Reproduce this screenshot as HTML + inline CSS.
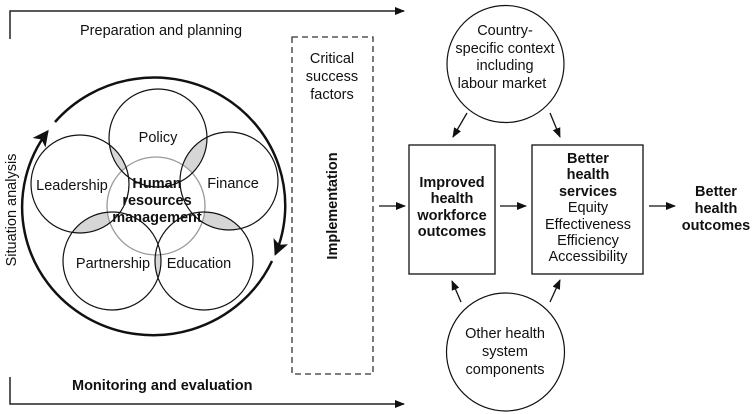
<!DOCTYPE html>
<html><head><meta charset="utf-8"><style>
html,body{margin:0;padding:0;background:#fff}
svg{display:block}
text{font-family:"Liberation Sans",Arial,sans-serif;font-size:14.5px;fill:#111}
.b{font-weight:bold}
</style></head><body>
<svg width="755" height="414" viewBox="0 0 755 414" xmlns="http://www.w3.org/2000/svg">
<defs>
<marker id="a" markerWidth="10" markerHeight="8" refX="9" refY="4" orient="auto" markerUnits="userSpaceOnUse"><path d="M0,0 L10,4 L0,8 Z" fill="#111"/></marker>
<marker id="big" markerWidth="18" markerHeight="16" refX="14" refY="8" orient="auto" markerUnits="userSpaceOnUse"><path d="M0,0 L16,8 L0,16 L4,8 Z" fill="#111"/></marker>
<clipPath id="cP"><circle cx="158" cy="138" r="49"/></clipPath>
<clipPath id="cF"><circle cx="229" cy="181" r="49"/></clipPath>
<clipPath id="cPa"><circle cx="112" cy="261" r="49"/></clipPath>
<clipPath id="cE"><circle cx="204" cy="261" r="49"/></clipPath>
</defs>
<path d="M10,39 V11 H404" fill="none" stroke="#222" stroke-width="1.5" marker-end="url(#a)"/>
<path d="M10,377 V404 H404" fill="none" stroke="#222" stroke-width="1.5" marker-end="url(#a)"/>
<text x="80" y="35">Preparation and planning</text>
<text x="72" y="390" class="b">Monitoring and evaluation</text>
<text transform="translate(16,210) rotate(-90)" text-anchor="middle">Situation analysis</text>
<g fill="#d6d6d6">
<circle cx="80" cy="184" r="49" clip-path="url(#cP)"/>
<circle cx="229" cy="181" r="49" clip-path="url(#cP)"/>
<circle cx="80" cy="184" r="49" clip-path="url(#cPa)"/>
<circle cx="229" cy="181" r="49" clip-path="url(#cE)"/>
<circle cx="112" cy="261" r="49" clip-path="url(#cE)"/>
</g>
<circle cx="156" cy="206" r="49" fill="#fff" stroke="#999" stroke-width="1.3"/>
<g fill="none" stroke="#111" stroke-width="1.2">
<circle cx="158" cy="138" r="49"/>
<circle cx="80" cy="184" r="49"/>
<circle cx="229" cy="181" r="49"/>
<circle cx="112" cy="261" r="49"/>
<circle cx="204" cy="261" r="49"/>
</g>
<path d="M272,261 A131,128 0 1 1 47.5,131.5" fill="none" stroke="#111" stroke-width="2.5" marker-end="url(#big)"/>
<path d="M55,122 A131,128 0 0 1 275.5,254" fill="none" stroke="#111" stroke-width="2.5" marker-end="url(#big)"/>
<text x="158" y="142" text-anchor="middle">Policy</text>
<text x="72" y="190" text-anchor="middle">Leadership</text>
<text x="233" y="188" text-anchor="middle">Finance</text>
<text x="113" y="268" text-anchor="middle">Partnership</text>
<text x="199" y="268" text-anchor="middle">Education</text>
<text x="157" y="188" text-anchor="middle" class="b">Human</text>
<text x="157" y="205" text-anchor="middle" class="b">resources</text>
<text x="157" y="222" text-anchor="middle" class="b">management</text>
<rect x="292" y="37" width="81" height="337" fill="none" stroke="#333" stroke-width="1.3" stroke-dasharray="6,4"/>
<text x="332" y="63" text-anchor="middle">Critical</text>
<text x="332" y="81" text-anchor="middle">success</text>
<text x="332" y="99" text-anchor="middle">factors</text>
<text transform="translate(337,206) rotate(-90)" text-anchor="middle" class="b">Implementation</text>
<circle cx="505.5" cy="64" r="58.5" fill="none" stroke="#111" stroke-width="1.2"/>
<circle cx="505.5" cy="352" r="59" fill="none" stroke="#111" stroke-width="1.2"/>
<text x="505" y="35" text-anchor="middle">Country-</text>
<text x="505" y="53" text-anchor="middle">specific context</text>
<text x="505" y="70" text-anchor="middle">including</text>
<text x="502" y="88" text-anchor="middle">labour market</text>
<text x="505" y="338" text-anchor="middle">Other health</text>
<text x="505" y="356" text-anchor="middle">system</text>
<text x="505" y="374" text-anchor="middle">components</text>
<rect x="409" y="145" width="86" height="129" fill="none" stroke="#111" stroke-width="1.3"/>
<rect x="532" y="145" width="111" height="129" fill="none" stroke="#111" stroke-width="1.3"/>
<g text-anchor="middle">
<text x="452" y="187" class="b">Improved</text>
<text x="452" y="203" class="b">health</text>
<text x="452" y="220" class="b">workforce</text>
<text x="452" y="236" class="b">outcomes</text>
<text x="588" y="163" class="b">Better</text>
<text x="588" y="179" class="b">health</text>
<text x="588" y="196" class="b">services</text>
<text x="716" y="196" class="b">Better</text>
<text x="716" y="213" class="b">health</text>
<text x="716" y="230" class="b">outcomes</text>
</g>
<text x="588" y="212" text-anchor="middle">Equity</text>
<text x="588" y="229" text-anchor="middle">Effectiveness</text>
<text x="588" y="245" text-anchor="middle">Efficiency</text>
<text x="588" y="261" text-anchor="middle">Accessibility</text>
<g stroke="#111" stroke-width="1.3" marker-end="url(#a)">
<line x1="379" y1="206" x2="405" y2="206"/>
<line x1="500" y1="206" x2="526" y2="206"/>
<line x1="649" y1="206" x2="675" y2="206"/>
<line x1="467" y1="113" x2="453" y2="137"/>
<line x1="550" y1="113" x2="560" y2="137"/>
<line x1="461" y1="302" x2="452" y2="281"/>
<line x1="550" y1="302" x2="560" y2="280"/>
</g>
</svg>
</body></html>
